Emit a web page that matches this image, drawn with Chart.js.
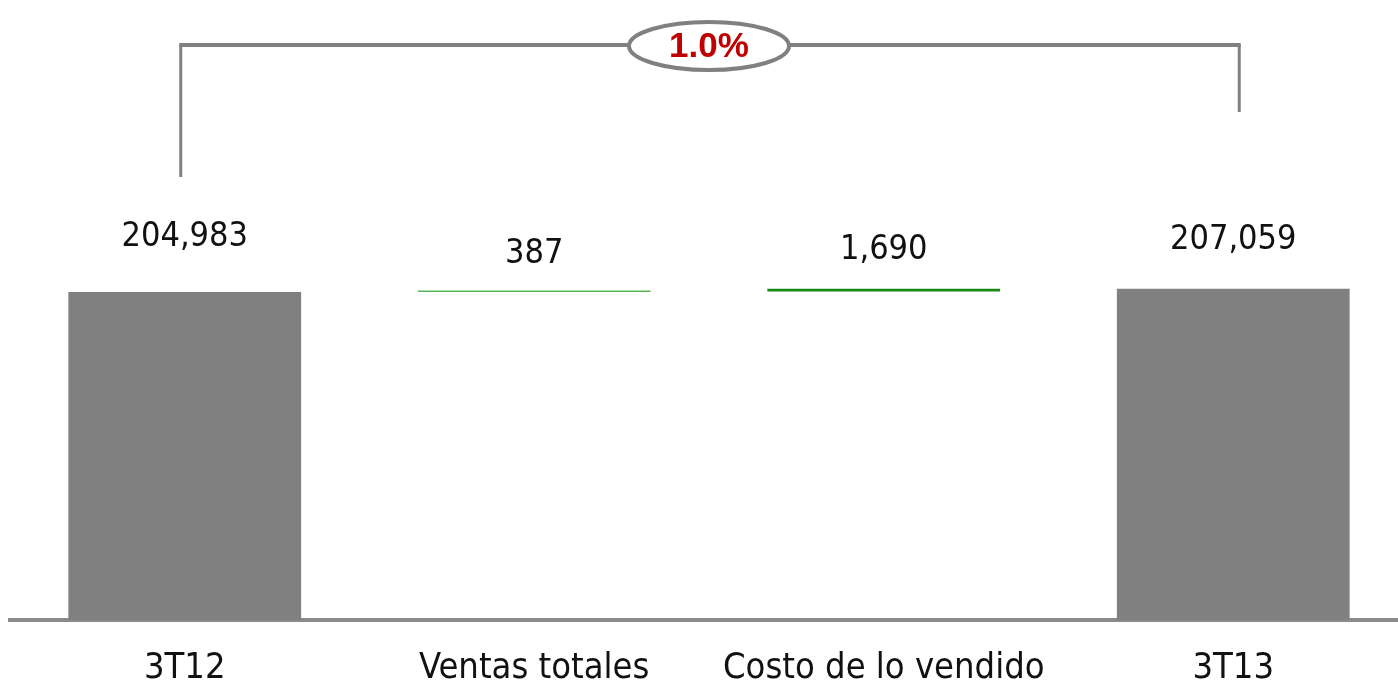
<!DOCTYPE html>
<html>
<head>
<meta charset="utf-8">
<script src="https://cdn.jsdelivr.net/npm/chart.js@4"></script>
<style>
  html, body { margin: 0; padding: 0; background: #fff; overflow: hidden; }
  #wrap { width: 1408px; height: 687px; }
</style>
</head>
<body>
<div id="wrap"><canvas id="chart1"></canvas></div>
<script>
const categories = ['3T12', 'Ventas totales', 'Costo de lo vendido', '3T13'];
const values = [204983, 387, 1690, 207059];
const kinds = ['total', 'delta', 'delta', 'total'];
const barColors = ['#808080', '#55b855', '#148a14', '#808080'];
const labelLift = [55, 36, 39, 49];

const FONT = "'DejaVu Sans Condensed', 'Open Sans', sans-serif";

// waterfall ranges
const ranges = [];
let running = 0;
for (let i = 0; i < values.length; i++) {
  if (kinds[i] === 'total') {
    ranges.push([0, values[i]]);
    running = values[i];
  } else {
    ranges.push([running, running + values[i]]);
    running += values[i];
  }
}
const pctChange = (values[3] / values[0] - 1) * 100;

const valueLabels = {
  id: 'valueLabels',
  afterDatasetsDraw(chart) {
    const ctx = chart.ctx;
    const meta = chart.getDatasetMeta(0);
    ctx.save();
    ctx.font = '34px ' + FONT;
    ctx.fillStyle = '#111';
    ctx.textAlign = 'center';
    ctx.textBaseline = 'middle';
    meta.data.forEach((bar, i) => {
      const top = Math.min(bar.y, bar.base);
      ctx.fillText(values[i].toLocaleString('en-US'), bar.x, top - labelLift[i]);
    });
    ctx.restore();
  }
};

const bracket = {
  id: 'bracket',
  afterDraw(chart) {
    const ctx = chart.ctx;
    const xs = chart.scales.x;
    const x1 = xs.getPixelForValue(0) - 4;
    const x2 = xs.getPixelForValue(3) + 6;
    const yTop = 45;
    ctx.save();
    ctx.strokeStyle = '#808080';
    ctx.lineWidth = 3;
    ctx.beginPath();
    ctx.moveTo(x1, 177);
    ctx.lineTo(x1, yTop);
    ctx.stroke();
    ctx.beginPath();
    ctx.moveTo(x2, 112);
    ctx.lineTo(x2, yTop);
    ctx.stroke();
    ctx.lineWidth = 4;
    ctx.beginPath();
    ctx.moveTo(x1 - 1.5, yTop);
    ctx.lineTo(x2 + 1.5, yTop);
    ctx.stroke();
    // ellipse
    const cx = 709, cy = 46;
    ctx.beginPath();
    ctx.ellipse(cx, cy, 80, 24, 0, 0, Math.PI * 2);
    ctx.fillStyle = '#fff';
    ctx.fill();
    ctx.lineWidth = 4;
    ctx.stroke();
    ctx.fillStyle = '#c00000';
    ctx.font = "bold 35px 'Liberation Sans', Arial, sans-serif";
    ctx.textAlign = 'center';
    ctx.textBaseline = 'middle';
    ctx.fillText(pctChange.toFixed(1) + '%', cx, cy + 1);
    ctx.restore();
  }
};

const config = {
  type: 'bar',
  data: {
    labels: categories,
    datasets: [{
      data: ranges,
      backgroundColor: barColors,
      borderWidth: 0,
      borderSkipped: false,
      minBarLength: 1.5,
      categoryPercentage: 1,
      barPercentage: 0.666
    }]
  },
  options: {
    responsive: true,
    maintainAspectRatio: false,
    animation: false,
    layout: { padding: { left: 10, right: 0, top: 20, bottom: 0 } },
    plugins: {
      legend: { display: false },
      tooltip: { enabled: false }
    },
    scales: {
      x: {
        grid: { display: false, drawTicks: false },
        border: { display: true, color: '#8a8a8a', width: 4 },
        ticks: {
          color: '#111',
          font: { family: FONT, size: 36 },
          padding: 27,
          maxRotation: 0
        },
        afterFit(scale) { scale.height = 67; }
      },
      y: {
        display: false,
        min: 0,
        max: 375000
      }
    }
  },
  plugins: [valueLabels, bracket]
};

var chart = new Chart(document.getElementById('chart1').getContext('2d'), config);
</script>
</body>
</html>
